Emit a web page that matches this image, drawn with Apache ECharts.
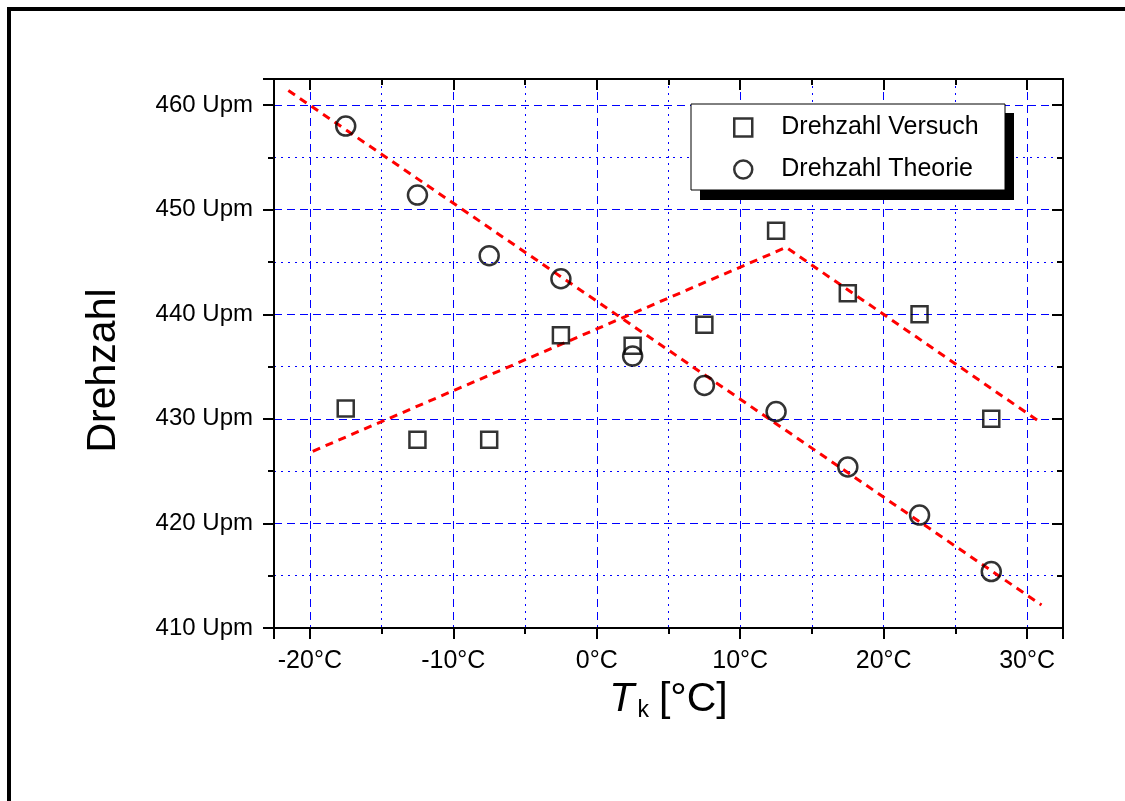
<!DOCTYPE html>
<html>
<head>
<meta charset="utf-8">
<script src="https://cdn.jsdelivr.net/npm/echarts@6/dist/echarts.min.js"></script>
<style>
html,body{margin:0;padding:0;background:#fff;}
#chart{width:1125px;height:801px;}
</style>
</head>
<body>
<div id="chart"></div>
<script>
// ---- data ----
const temps = [-17.5, -12.5, -7.5, -2.5, 2.5, 7.5, 12.5, 17.5, 22.5, 27.5];
const drehzahlVersuch = [431.0, 428.0, 428.0, 438.0, 437.0, 439.0, 448.0, 442.0, 440.0, 430.0];
const drehzahlTheorie = [458.0, 451.4, 445.6, 443.4, 436.0, 433.2, 430.7, 425.4, 420.8, 415.4];
const fitTheorieX = [-21.5, 31.0];
const fitTheorieY = [461.4, 412.2];
const fitVersuchX = [-19.8, 13.2, 31.0];
const fitVersuchY = [426.9, 446.4, 429.6];
const seriesNames = ['Drehzahl Versuch', 'Drehzahl Theorie'];
const xRange = [-22.5, 32.5];
const yRange = [410, 462.5];

const zip = (xs, ys) => xs.map((x, i) => [x, ys[i]]);

const FONT = "'Liberation Sans', Arial, sans-serif";
const BLUE = '#0000ff';

const chart = echarts.init(document.getElementById('chart'), null, {renderer: 'canvas'});

const mainTick = {show: true, length: 11, lineStyle: {color: '#000', width: 2}};
const mainMinor = {show: true, splitNumber: 2, length: 6, lineStyle: {color: '#000', width: 2}};

const option = {
  backgroundColor: '#fff',
  animation: false,
  graphic: [
    {type: 'rect', z: -10, shape: {x: 9, y: 9, width: 1300, height: 1000},
     style: {fill: null, stroke: '#000', lineWidth: 4}},
    {type: 'rect', z: 3, shape: {x: 700, y: 113, width: 314, height: 87},
     style: {fill: '#000'}},
    {type: 'rect', z: 3, shape: {x: 691, y: 104, width: 314, height: 86},
     style: {fill: '#fff', stroke: '#000', lineWidth: 1}}
  ],
  grid: {left: 274, right: 62, top: 79, bottom: 173, containLabel: false},
  legend: {
    z: 10,
    left: 691, top: 104,
    orient: 'vertical',
    padding: [11, 10, 11, 42],
    itemGap: 17,
    itemWidth: 18, itemHeight: 18,
    data: [
      {name: seriesNames[0], icon: 'rect'},
      {name: seriesNames[1], icon: 'circle'}
    ],
    itemStyle: {color: 'rgba(0,0,0,0)', borderColor: '#000', borderWidth: 2.5},
    textStyle: {fontFamily: FONT, fontSize: 25, color: '#000', padding: [0, 0, 0, 24]}
  },
  xAxis: [
    {
      type: 'value', position: 'bottom', min: xRange[0], max: xRange[1], splitNumber: 5,
      axisLine: {show: true, onZero: false, lineStyle: {color: '#000', width: 2}},
      axisTick: mainTick,
      minorTick: mainMinor,
      axisLabel: {show: true, formatter: '{value}°C', fontFamily: FONT, fontSize: 25, color: '#000',
                  margin: 21, showMinLabel: false, showMaxLabel: false},
      splitLine: {show: true, lineStyle: {color: BLUE, width: 1, type: [8, 5]}},
      minorSplitLine: {show: true, lineStyle: {color: BLUE, width: 1, type: [2, 5]}},
      name: '{t|T}{k|k}{n|[°C]}',
      nameLocation: 'middle', nameGap: 49,
      nameTextStyle: {
        rich: {
          t: {fontFamily: FONT, fontSize: 41, fontStyle: 'italic', color: '#000'},
          k: {fontFamily: FONT, fontSize: 23, color: '#000', verticalAlign: 'bottom', padding: [22, 0, 0, 3]},
          n: {fontFamily: FONT, fontSize: 41, color: '#000', padding: [0, 0, 0, 10]}
        }
      }
    },
    {
      type: 'value', position: 'top', min: xRange[0], max: xRange[1], splitNumber: 5,
      axisLine: {show: true, onZero: false, lineStyle: {color: '#000', width: 2}},
      axisTick: {show: true, inside: true, length: 11, lineStyle: {color: '#000', width: 2}},
      minorTick: {show: true, splitNumber: 2, length: 6, lineStyle: {color: '#000', width: 2}},
      axisLabel: {show: false},
      splitLine: {show: false}
    }
  ],
  yAxis: [
    {
      type: 'value', position: 'left', min: yRange[0], max: yRange[1], splitNumber: 5,
      axisLine: {show: true, onZero: false, lineStyle: {color: '#000', width: 2}},
      axisTick: mainTick,
      minorTick: mainMinor,
      axisLabel: {show: true, formatter: '{value} Upm', fontFamily: FONT, fontSize: 24, color: '#000',
                  margin: 21, showMaxLabel: false},
      splitLine: {show: true, lineStyle: {color: BLUE, width: 1, type: [8, 5]}},
      minorSplitLine: {show: true, lineStyle: {color: BLUE, width: 1, type: [2, 5]}},
      name: 'Drehzahl',
      nameLocation: 'middle', nameRotate: 90, nameGap: 150,
      nameTextStyle: {fontFamily: FONT, fontSize: 41, color: '#000', padding: [0, 34, 0, 0]}
    },
    {
      type: 'value', position: 'right', min: yRange[0], max: yRange[1], splitNumber: 5,
      axisLine: {show: true, onZero: false, lineStyle: {color: '#000', width: 2}},
      axisTick: {show: true, inside: true, length: 11, lineStyle: {color: '#000', width: 2}},
      minorTick: {show: true, splitNumber: 2, length: 6, lineStyle: {color: '#000', width: 2}},
      axisLabel: {show: false},
      splitLine: {show: false}
    }
  ],
  series: [
    {
      name: 'fitTheorie', type: 'line', data: zip(fitTheorieX, fitTheorieY),
      symbol: 'none', z: 2, silent: true,
      lineStyle: {color: '#ff0000', width: 3, type: [8, 6]}
    },
    {
      name: 'fitVersuch', type: 'line', data: zip(fitVersuchX, fitVersuchY),
      symbol: 'none', z: 2, silent: true,
      lineStyle: {color: '#ff0000', width: 3, type: [8, 6]}
    },
    {
      name: seriesNames[0], type: 'scatter', data: zip(temps, drehzahlVersuch),
      symbol: 'rect', symbolSize: 16, z: 5,
      itemStyle: {color: 'rgba(0,0,0,0)', borderColor: '#000', borderWidth: 2.5}
    },
    {
      name: seriesNames[1], type: 'scatter', data: zip(temps, drehzahlTheorie),
      symbol: 'circle', symbolSize: 19, z: 5,
      itemStyle: {color: 'rgba(0,0,0,0)', borderColor: '#000', borderWidth: 2.5}
    }
  ]
};
chart.setOption(option);
</script>
</body>
</html>
